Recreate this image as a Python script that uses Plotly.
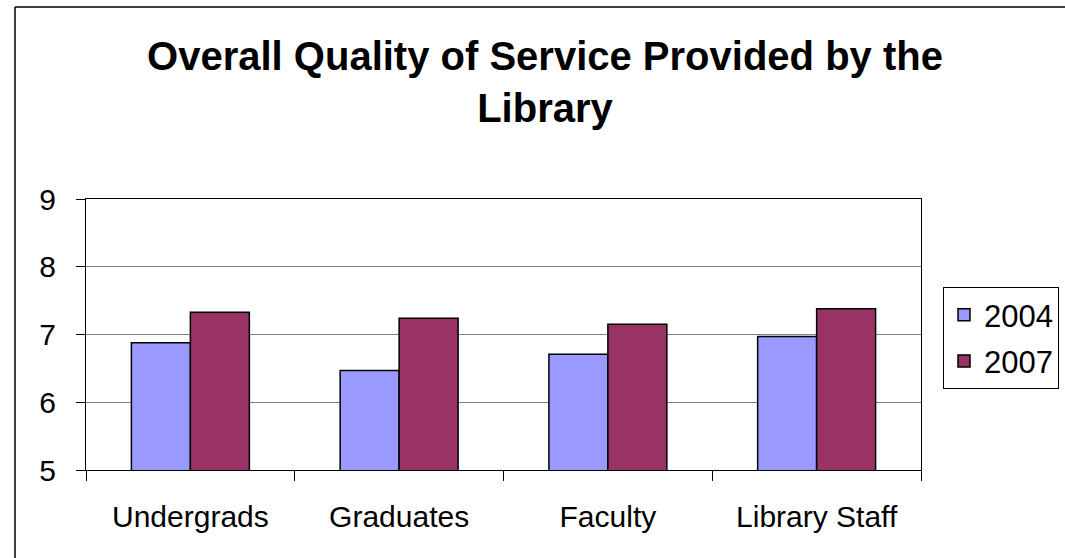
import plotly.graph_objects as go

categories = ["Undergrads", "Graduates", "Faculty", "Library Staff"]
values_2004 = [6.88, 6.47, 6.71, 6.97]
values_2007 = [7.33, 7.24, 7.15, 7.38]
series_names = ["2004", "2007"]
y_ticks = [5, 6, 7, 8, 9]

W, H = 1065, 558
L, R, T, B = 86, 144, 199, 88
pw, ph = W - L - R, H - T - B

FONT = "Liberation Sans, Arial, sans-serif"

fig = go.Figure()
fig.add_trace(go.Bar(x=categories, y=values_2004, name=series_names[0], legendgroup="a",
                     marker=dict(color="#9999FF", line=dict(color="black", width=1.5))))
fig.add_trace(go.Bar(x=categories, y=values_2007, name=series_names[1], legendgroup="b",
                     marker=dict(color="#993366", line=dict(color="black", width=1.5))))

# outer chart border: only left and top edges are visible in the reference
bx = (15 - L) / pw
by = (H - B - 7) / ph
fig.add_shape(type="line", xref="paper", yref="paper",
              x0=bx, x1=bx, y0=-(B + 20) / ph, y1=by,
              line=dict(color="black", width=1.5), layer="below")
fig.add_shape(type="line", xref="paper", yref="paper",
              x0=bx, x1=(W + 30 - L) / pw, y0=by, y1=by,
              line=dict(color="black", width=1.5), layer="below")

fig.update_layout(
    width=W, height=H,
    margin=dict(l=L, r=R, t=T, b=B, autoexpand=False),
    paper_bgcolor="white", plot_bgcolor="white",
    font=dict(family=FONT, size=30, color="black"),
    title=dict(text="<b>Overall Quality of Service Provided by the<br>Library</b>",
               font=dict(family=FONT, size=40, color="black"),
               x=545 / W, xanchor="center", xref="container",
               y=1 - 70 / H, yanchor="top", yref="container"),
    barmode="group", bargap=0.435, bargroupgap=0,
    showlegend=True,
    legend=dict(x=(943 - L) / pw, xanchor="left", y=(H - B - 287) / ph, yanchor="top",
                bordercolor="black", borderwidth=1, bgcolor="white",
                font=dict(family=FONT, size=31, color="black"),
                itemwidth=30, traceorder="grouped", tracegroupgap=3,
                entrywidth=85),
    xaxis=dict(showline=True, linecolor="black", linewidth=1, mirror=True,
               ticks="outside", tickson="boundaries", ticklen=10, tickcolor="black",
               tickfont=dict(family=FONT, size=30), ticklabelstandoff=20,
               showgrid=False),
    yaxis=dict(range=[5, 9], tickvals=y_ticks, showline=True, linecolor="black",
               linewidth=1, mirror=True, ticks="outside", ticklen=9, tickcolor="black",
               tickfont=dict(family=FONT, size=30), ticklabelstandoff=14,
               showgrid=True, gridcolor="#808080", gridwidth=1, zeroline=False),
)

fig.write_html("out.html", config={"displayModeBar": False},
               post_script="document.body.style.margin='0';")
